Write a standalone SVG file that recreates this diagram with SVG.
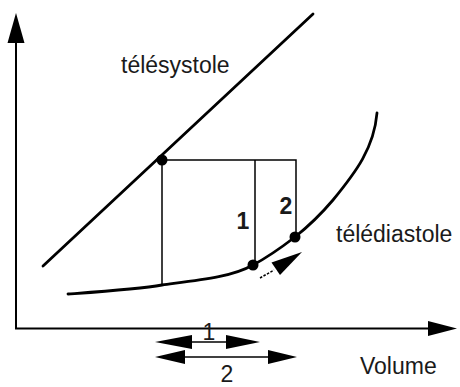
<svg xmlns="http://www.w3.org/2000/svg" width="460" height="387" viewBox="0 0 460 387">
<style>
.axis{stroke:#000;stroke-width:2;fill:none}
.thick{stroke:#000;stroke-width:2.8;fill:none;stroke-linecap:round}
.thin{stroke:#000;stroke-width:1.5;fill:none}
.head{fill:#000;stroke:none}
.dot{fill:#000}
.lbl{font-family:"Liberation Sans",Arial,sans-serif;font-size:23px;fill:#1a1a1a}
.num{font-family:"Liberation Sans",Arial,sans-serif;font-size:23px;fill:#1a1a1a}
.bnum{font-family:"Liberation Sans",Arial,sans-serif;font-size:23px;font-weight:bold;fill:#1a1a1a}
</style>
<rect width="460" height="387" fill="#fff"/>
<g id="connectors">
<path class="axis" d="M16,40 V328.5 H430"/>
<polygon class="head" points="16,13 7.5,43 24.5,43"/>
<polygon class="head" points="457,328.5 428,321 428,336"/>
<path class="thin" d="M162,160 H296 V237 M255,160 V265 M162,160 V285"/>
<line class="thin" x1="190" y1="342" x2="228" y2="342"/>
<polygon class="head" points="155,342 192,335 192,349"/>
<polygon class="head" points="260,342 226,335 226,349"/>
<line class="thin" x1="183" y1="357" x2="270" y2="357"/>
<polygon class="head" points="155,357 185,350 185,364"/>
<polygon class="head" points="297,357 268,350 268,364"/>
<line x1="260" y1="278" x2="274" y2="270" stroke="#000" stroke-width="1.5" stroke-dasharray="2.5,1.5"/>
<polygon class="head" points="302,252 271.5,262.5 280,275"/>
</g>
<g id="telesystole">
<line class="thick" x1="43" y1="266" x2="313" y2="14"/>
<text class="lbl" x="121" y="73">télésystole</text>
</g>
<g id="telediastole">
<path class="thick" d="M68,294 C110,291 140,289 162,285 C200,280 232,277 253,265 C268,257 282,247 295,237 C310,225 322,213 333,200 C356,172 374,148 377,113"/>
<text class="lbl" x="336" y="242">télédiastole</text>
</g>
<g id="point-top"><circle class="dot" cx="162" cy="160" r="5.5"/></g>
<g id="point-1"><circle class="dot" cx="253" cy="265" r="5.5"/><text class="bnum" x="243" y="229" text-anchor="middle">1</text></g>
<g id="point-2"><circle class="dot" cx="295" cy="237" r="5.5"/><text class="bnum" x="286" y="214" text-anchor="middle">2</text></g>
<g id="volume-label"><text class="lbl" x="360" y="374">Volume</text></g>
<g id="delta-1"><text class="num" x="209" y="340" text-anchor="middle">1</text></g>
<g id="delta-2"><text class="num" x="227" y="382" font-size="22" text-anchor="middle">2</text></g>
</svg>
